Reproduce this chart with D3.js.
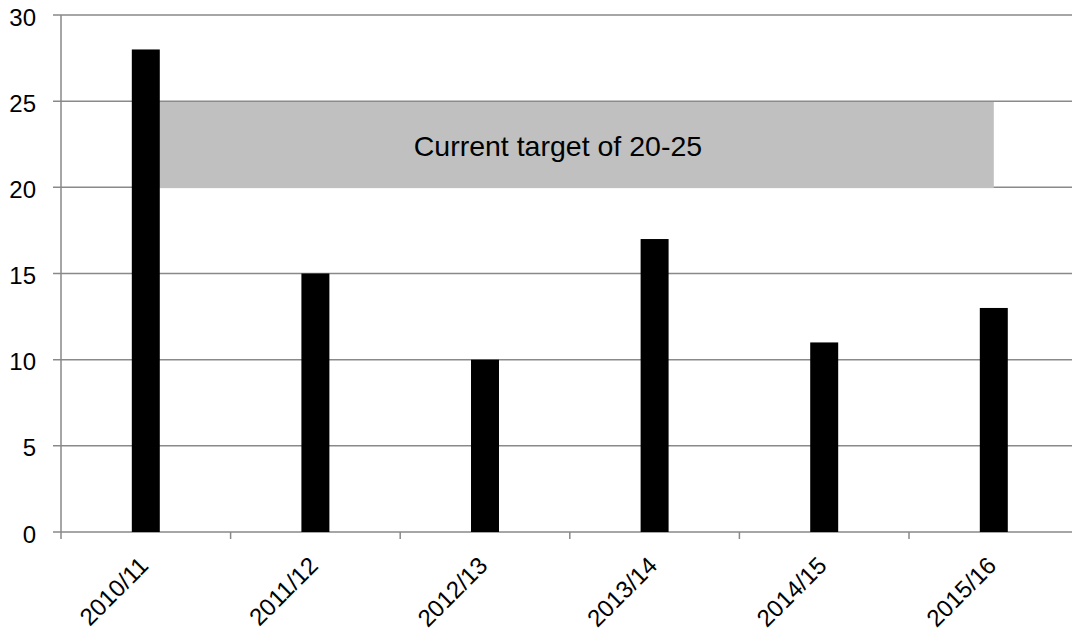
<!DOCTYPE html>
<html>
<head>
<meta charset="utf-8">
<script src="https://cdn.jsdelivr.net/npm/d3@7"></script>
<style>
  html, body { margin: 0; padding: 0; background: #fff; overflow: hidden; }
  svg { display: block; font-family: "Liberation Sans", Arial, sans-serif; }
</style>
</head>
<body>
<main></main>
<script>
// data
const years = ['2010/11', '2011/12', '2012/13', '2013/14', '2014/15', '2015/16'];
const values = [28, 15, 10, 17, 11, 13];
const yTicks = [0, 5, 10, 15, 20, 25, 30];
const targetRange = [20, 25];
const targetLabel = 'Current target of 20-25';

// layout
const width = 1072;
const height = 634;
const plotLeft = 61;
const plotRight = 1078.6; // plot runs a little past the window edge
const plotTop = 15;
const plotBottom = 532;
const gridColor = '#898989';
const fontSize = 24;

const svg = d3.select('main')
  .append('svg')
  .attr('width', width)
  .attr('height', height);

// scales
const x = d3.scaleBand()
  .domain(years)
  .range([plotLeft, plotRight])
  .paddingInner(0.835)
  .paddingOuter(0.835 / 2);

const y = d3.scaleLinear()
  .domain([0, 30])
  .range([plotBottom, plotTop]);

const half = x.bandwidth() / 2;
const step = x.step();
const edge = d => x(d) - step * x.paddingOuter(); // left boundary of a category slot

// gridlines (the 0 line doubles as the x axis)
svg.append('g')
  .selectAll('line')
  .data(yTicks)
  .join('line')
  .attr('x1', plotLeft - 8)
  .attr('x2', plotRight)
  .attr('y1', d => y(d))
  .attr('y2', d => y(d))
  .attr('stroke', gridColor)
  .attr('stroke-width', 1.5);

// target band sits over the gridlines but under the bars
svg.append('rect')
  .attr('x', x(years[0]) + half)
  .attr('y', y(targetRange[1]) + 0.8)
  .attr('width', x(years[years.length - 1]) - x(years[0]))
  .attr('height', y(targetRange[0]) - y(targetRange[1]))
  .attr('fill', '#c0c0c0');

svg.append('text')
  .text(targetLabel)
  .attr('x', plotLeft + step * 2.93)
  .attr('y', 156)
  .attr('text-anchor', 'middle')
  .attr('font-size', 28.5)
  .attr('fill', '#000');

// bars
svg.append('g')
  .selectAll('rect')
  .data(values)
  .join('rect')
  .attr('x', (d, i) => x(years[i]))
  .attr('y', d => y(d))
  .attr('width', x.bandwidth())
  .attr('height', d => y(0) - y(d))
  .attr('fill', '#000');

// y axis line + labels
svg.append('line')
  .attr('x1', plotLeft)
  .attr('x2', plotLeft)
  .attr('y1', plotTop)
  .attr('y2', plotBottom + 7)
  .attr('stroke', gridColor)
  .attr('stroke-width', 1.5);

svg.append('g')
  .selectAll('text')
  .data(yTicks)
  .join('text')
  .text(d => d)
  .attr('x', 36)
  .attr('y', d => y(d))
  .attr('dy', '0.44em')
  .attr('text-anchor', 'end')
  .attr('font-size', fontSize)
  .attr('fill', '#000');

// x axis ticks sit between the categories
svg.append('g')
  .selectAll('line')
  .data(years.slice(1))
  .join('line')
  .attr('x1', d => edge(d))
  .attr('x2', d => edge(d))
  .attr('y1', plotBottom)
  .attr('y2', plotBottom + 7)
  .attr('stroke', gridColor)
  .attr('stroke-width', 1.5);

// rotated category labels
svg.append('g')
  .selectAll('text')
  .data(years)
  .join('text')
  .text(d => d)
  .attr('text-anchor', 'end')
  .attr('font-size', fontSize)
  .attr('fill', '#000')
  .attr('transform', d => `translate(${x(d) + half + 4}, ${plotBottom + 35}) rotate(-45)`);
</script>
</body>
</html>
